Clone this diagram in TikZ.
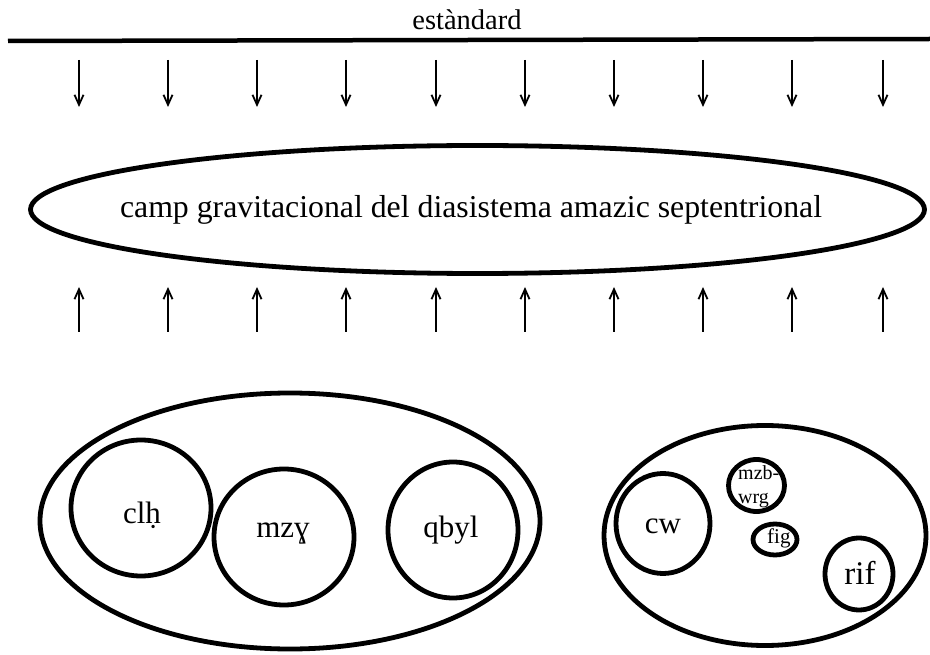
\documentclass[tikz,border=0pt]{standalone}
\usepackage{fontspec}
\setmainfont{Liberation Serif}
\usetikzlibrary{arrows.meta}
\tikzset{
  ring/.style={draw=black, line width=4.8pt},
  lbl/.style={inner sep=0pt, anchor=base, font=\fontsize{31}{36}\selectfont},
  small/.style={inner sep=0pt, anchor=base west, font=\fontsize{20}{24}\selectfont},
  pull/.style={line width=1.8pt, -{Straight Barb[length=10pt, width=9pt, line width=1.8pt]}},
}
\begin{document}
\begin{tikzpicture}[x=1pt, y=-1pt]
\useasboundingbox (0,0) rectangle (930,655);

% standard line and its label
\coordinate (la) at (8,41);
\coordinate (lb) at (930,39);
\draw[line width=4.5pt] (la) -- (lb);
\node[lbl, font=\fontsize{28.5}{32}\selectfont] (std) at (467,30) {estàndard};

% central field
\draw[ring] (477.5,209.5) ellipse [x radius=447, y radius=64];
\node[lbl, font=\fontsize{31.8}{36}\selectfont] (field) at (471,218) {camp gravitacional del diasistema amazic septentrional};

% arrows from above and below
\foreach \i/\x in {1/79,2/168,3/257,4/346,5/436,6/525,7/614,8/703,9/792,10/883}{
  \coordinate (d\i a) at (\x,60);
  \coordinate (d\i b) at (\x,107);
  \draw[pull] (d\i a) -- (d\i b);
  \coordinate (u\i a) at (\x,332);
  \coordinate (u\i b) at (\x,287);
  \draw[pull] (u\i a) -- (u\i b);
}

% left group
\draw[ring] (290,521) ellipse [x radius=250, y radius=128];
\draw[ring] (141,508) ellipse [x radius=70, y radius=68];
\draw[ring] (284,537) ellipse [x radius=70, y radius=68];
\draw[ring] (453,530) ellipse [x radius=65, y radius=68];
\node[lbl] (clh) at (142,523) {clḥ};
\node[lbl] (mzg) at (283,537) {mzɣ};
\node[lbl] (qbyl) at (451,537) {qbyl};

% right group
\draw[ring] (765,535.5) ellipse [x radius=161, y radius=110];
\draw[ring] (663,523.5) ellipse [x radius=47, y radius=50];
\draw[ring] (756.5,485.5) ellipse [x radius=28, y radius=26];
\draw[ring] (775,539.5) ellipse [x radius=22, y radius=15.5];
\draw[ring] (859,574) ellipse [x radius=34, y radius=36];
\node[lbl] (cw) at (663,533) {cw};
\node[small] (mzb) at (738,479) {mzb-};
\node[small] (wrg) at (738,503) {wrg};
\node[small, font=\fontsize{21}{24}\selectfont] (fig) at (767,543) {fig};
\node[lbl, font=\fontsize{33}{36}\selectfont] (rif) at (860,584) {rif};
\end{tikzpicture}
\end{document}
